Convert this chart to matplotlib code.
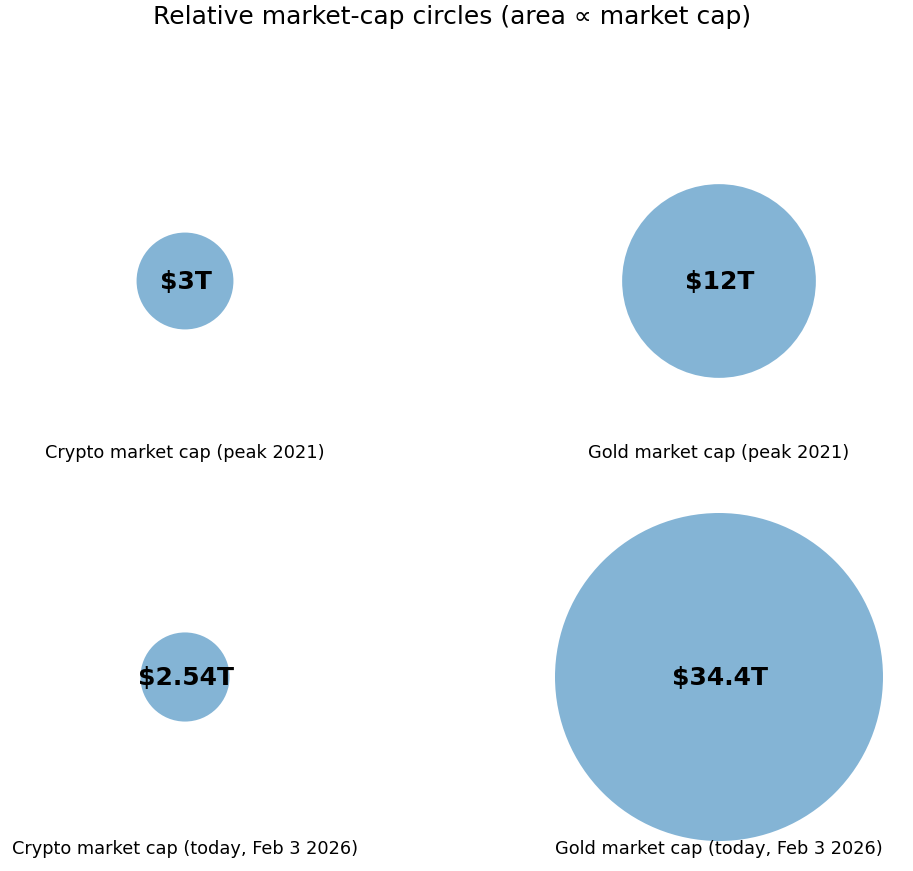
import matplotlib.pyplot as plt
from matplotlib.patches import Circle
import numpy as np

labels = ['Crypto market cap (peak 2021)', 'Gold market cap (peak 2021)',
          'Crypto market cap (today, Feb 3 2026)', 'Gold market cap (today, Feb 3 2026)']
values = [3.0, 12.0, 2.54, 34.4]   # trillions USD
value_text = ['\\$3T', '\\$12T', '\\$2.54T', '\\$34.4T']

W, H = 913, 871
fig = plt.figure(figsize=(W / 100, H / 100), dpi=100)

# circle centres in pixels (x from left, y from top), 1 data unit = 164 px
centres = [(185, 281), (719, 281), (185, 677), (719, 677)]
unit = 164
vmax = max(values)

for (cx, cy), lab, v, vt in zip(centres, labels, values, value_text):
    ax = fig.add_axes([(cx - unit) / W, (H - cy - unit) / H, 2 * unit / W, 2 * unit / H])
    ax.set_xlim(-1, 1)
    ax.set_ylim(-1, 1)
    ax.set_aspect('equal')
    ax.axis('off')
    r = np.sqrt(v / vmax)
    ax.add_patch(Circle((0, 0), r, color='tab:blue', alpha=0.55, lw=0))
    ax.text(0.005, -0.005, vt, ha='center', va='center', fontsize=18, fontweight='bold')
    ax.text(0, -1.05, lab, ha='center', va='center', fontsize=12.8, clip_on=False)

fig.text(452 / W, 1 - 17 / H, 'Relative market-cap circles (area \u221d market cap)',
         ha='center', va='center', fontsize=18)

fig.savefig('out.png', dpi=100)
